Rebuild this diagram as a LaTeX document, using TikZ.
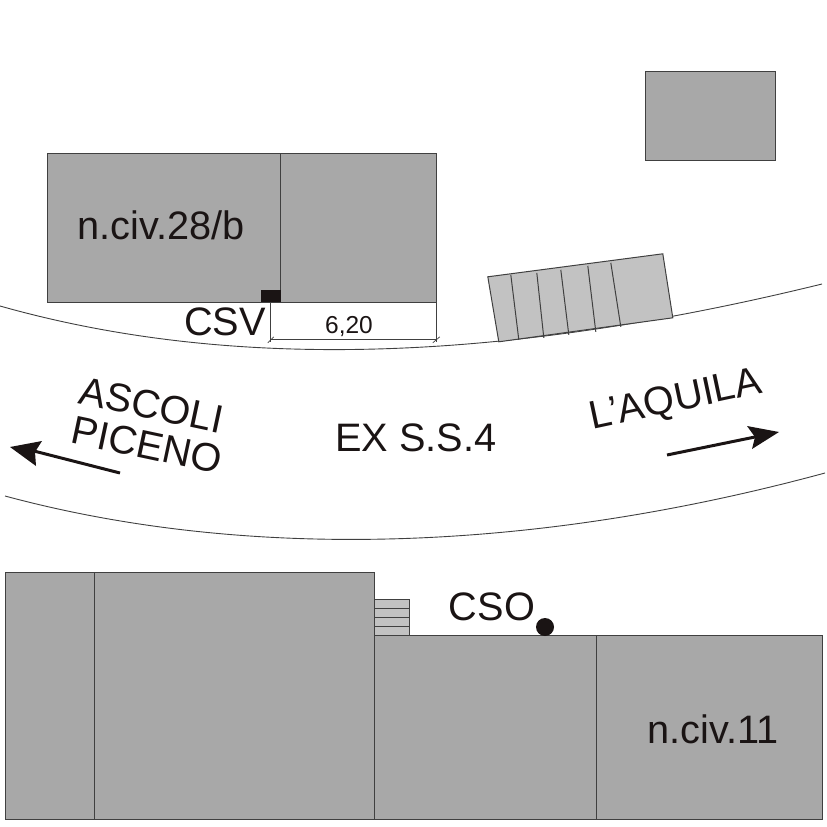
\documentclass[tikz,border=0pt]{standalone}
\usepackage{fontspec}
\setmainfont{Liberation Sans}
\definecolor{bld}{HTML}{A8A8A8}
\definecolor{lite}{HTML}{C2C2C2}
\definecolor{edge}{HTML}{404040}
\definecolor{ink}{HTML}{1A1414}
\tikzset{
  bldg/.style={fill=bld,draw=edge,line width=1pt},
  lightpart/.style={fill=lite,draw=edge,line width=1pt},
  divider/.style={draw=edge,line width=1pt},
  roadline/.style={draw=edge,line width=0.9pt},
  dimline/.style={draw=edge,line width=0.7pt},
  bigtext/.style={font=\fontsize{39.7}{40}\selectfont,text=ink,inner sep=0pt},
  smalltext/.style={font=\fontsize{24.5}{25}\selectfont,text=ink,inner sep=0pt},
  headtip/.style={fill=ink,draw=none},
  shaft/.style={draw=ink,line width=3pt}
}
\begin{document}
\begin{tikzpicture}[x=1pt,y=-1pt]
\useasboundingbox (0,0) rectangle (827,827);
% roads
\draw[roadline] (0,306) .. controls (230,371) and (500,363) .. (822,284);
\draw[roadline] (5,496) .. controls (220,554) and (500,561) .. (825,473);
\begin{scope}[shift={(-0.2,-0.2)}]
% top buildings
\draw[bldg] (646,72) rectangle (776,161);
\draw[bldg] (48,154) rectangle (437,303);
\draw[divider] (281,154) -- (281,303);
\fill[ink] (261,290) rectangle (281,302);
% canopy
\draw[lightpart] (488,277) -- (663,254) -- (673,318) -- (499,342) -- cycle;
\draw[divider] (511,275) -- (519,340);
\draw[divider] (537,273) -- (544,338);
\draw[divider] (561,270) -- (569,335);
\draw[divider] (588,266) -- (596,332);
\draw[divider] (611,263) -- (621,327);
% dimension
\coordinate (dl) at (271,303);
\coordinate (dr) at (437,303);
\coordinate (bl) at (271,340);
\coordinate (br) at (437,340);
\draw[dimline] (dl) -- (271,342);
\draw[dimline] (dr) -- (437,342);
\draw[dimline] (bl) -- (br);
\draw[dimline] (268,343) -- (274,337);
\draw[dimline] (433,343) -- (440,337);
% bottom buildings
\draw[lightpart] (375,600) rectangle (410,636);
\draw[divider] (375,609) -- (410,609);
\draw[divider] (375,618) -- (410,618);
\draw[divider] (375,627) -- (410,627);
\draw[bldg] (6,573) rectangle (375,820);
\draw[divider] (95,573) -- (95,820);
\draw[bldg] (375,636) rectangle (823,820);
\draw[divider] (597,636) -- (597,820);
\end{scope}
\fill[ink] (545,627) circle (9);
% arrows
\draw[shaft] (120,473) -- (30,450);
\fill[headtip] (10,447) -- (42,441) -- (35,452) -- (36,466) -- cycle;
\draw[shaft] (667,455) -- (755,437);
\fill[headtip] (779,432) -- (747,426) -- (755,437) -- (752,449) -- cycle;
% labels
\node[bigtext] (civa) at (161,225) {n.civ.28/b};
\node[bigtext] (csv) at (225,322) {CSV};
\node[smalltext] (dim) at (349,327) {6,20};
\node[bigtext,rotate=-12] (asc) at (152,405) {ASCOLI};
\node[bigtext,rotate=-12] (pic) at (147,445) {PICENO};
\node[bigtext] (road) at (416,438) {EX S.S.4};
\node[bigtext,rotate=12] (laq) at (676,401) {L'AQUILA};
\node[bigtext] (cso) at (492,607) {CSO};
\node[bigtext] (civb) at (713,729) {n.civ.11};
\end{tikzpicture}
\end{document}
